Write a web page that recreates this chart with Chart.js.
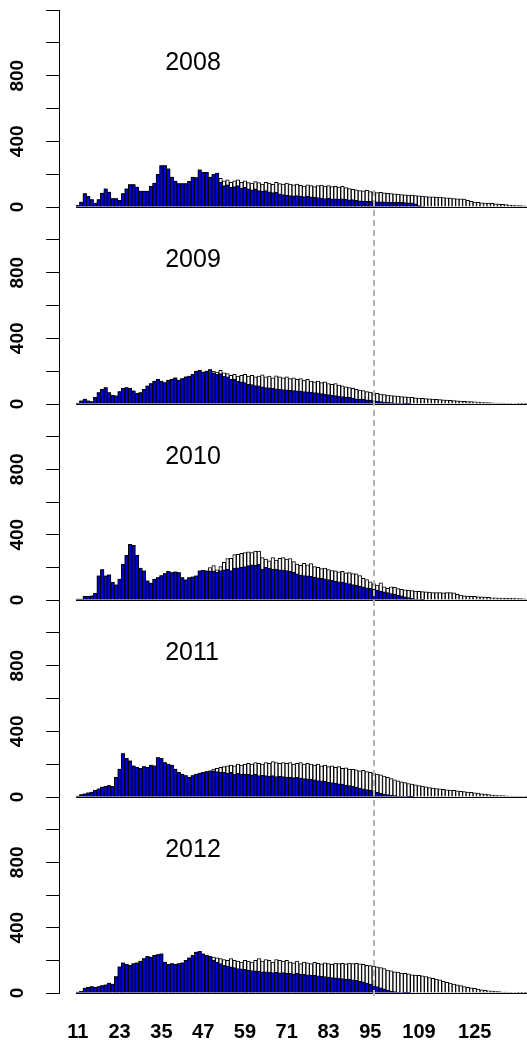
<!DOCTYPE html>
<html>
<head>
<meta charset="utf-8">
<script src="https://cdn.jsdelivr.net/npm/chart.js@4.4.1/dist/chart.umd.min.js"></script>
<style>
  html, body { margin: 0; padding: 0; background: #fff; }
  #wrap { position: relative; width: 527px; height: 1045px; overflow: hidden; }
  .panel { position: absolute; left: 0; width: 527px; }
</style>
</head>
<body>
<div id="wrap"></div>
<script>
// length classes (cm) on the x axis
let lengths = [
  11, 12, 13, 14, 15, 16, 17, 18, 19, 20, 21, 22, 23, 24, 25, 26, 27, 28, 29, 30,
  31, 32, 33, 34, 35, 36, 37, 38, 39, 40, 41, 42, 43, 44, 45, 46, 47, 48, 49, 50,
  51, 52, 53, 54, 55, 56, 57, 58, 59, 60, 61, 62, 63, 64, 65, 66, 67, 68, 69, 70,
  71, 72, 73, 74, 75, 76, 77, 78, 79, 80, 81, 82, 83, 84, 85, 86, 87, 88, 89, 90,
  91, 92, 93, 94, 95, 96, 97, 98, 99, 100, 101, 102, 103, 104, 105, 106, 107, 108, 109, 110,
  111, 112, 113, 114, 115, 116, 117, 118, 119, 120, 121, 122, 123, 124, 125, 126, 127, 128, 129, 130,
  131, 132, 133, 134, 135, 136, 137, 138, 139, 140,
];
let years = ["2008", "2009", "2010", "2011", "2012"];
let xTickLabels = [11, 23, 35, 47, 59, 71, 83, 95, 109, 125];
let yTickLabels = [0, 400, 800];
let cutoffLength = 96;

// white bars = all fish, blue bars = part of them
let total2008 = [
  10, 30, 81, 65, 45, 24, 45, 85, 110, 91,
  51, 51, 40, 81, 110, 136, 136, 122, 97, 97,
  97, 126, 146, 199, 252, 252, 233, 183, 158, 142,
  142, 142, 156, 183, 179, 227, 211, 211, 183, 199,
  207, 175, 160, 165, 150, 160, 165, 150, 160, 148,
  145, 155, 148, 140, 150, 145, 138, 150, 142, 140,
  145, 140, 135, 140, 132, 128, 135, 130, 125, 130,
  134, 128, 130, 124, 126, 122, 126, 118, 112, 108,
  104, 100, 98, 102, 94, 92, 88, 90, 86, 84,
  82, 80, 78, 76, 74, 72, 72, 70, 68, 66,
  64, 62, 62, 60, 60, 58, 56, 54, 52, 50,
  50, 48, 40, 34, 30, 28, 26, 24, 24, 22,
  20, 18, 16, 14, 12, 10, 9, 8, 7, 6,
];
let blue2008 = [
  10, 30, 81, 65, 45, 24, 45, 85, 110, 91,
  51, 51, 40, 81, 110, 136, 136, 122, 97, 97,
  97, 126, 146, 199, 252, 252, 233, 183, 158, 142,
  142, 142, 156, 183, 179, 227, 211, 211, 183, 199,
  207, 150, 130, 135, 120, 125, 130, 115, 120, 110,
  105, 110, 100, 95, 100, 92, 88, 90, 80, 75,
  72, 70, 68, 70, 66, 64, 66, 62, 60, 58,
  55, 52, 54, 50, 50, 48, 50, 46, 44, 45,
  40, 38, 36, 35, 34, 33, 32, 32, 31, 30,
  30, 29, 28, 28, 27, 26, 25, 20, 8, 3,
  0, 0, 0, 0, 0, 0, 0, 0, 0, 0,
  0, 0, 0, 0, 0, 0, 0, 0, 0, 0,
  0, 0, 0, 0, 0, 0, 0, 0, 0, 0,
];
let total2009 = [
  5, 20, 30, 20, 15, 40, 70, 90, 100, 70,
  55, 50, 75, 95, 100, 95, 80, 65, 70, 90,
  110, 125, 140, 150, 140, 130, 145, 150, 160, 145,
  155, 165, 170, 180, 200, 205, 195, 200, 210, 200,
  195, 205, 190, 185, 175, 180, 170, 175, 180, 170,
  175, 165, 170, 178, 165, 170, 160, 172, 165, 160,
  165, 155, 160, 150, 155, 145, 150, 140, 135, 140,
  130, 135, 125, 120, 125, 115, 110, 105, 100, 95,
  90, 85, 82, 75, 72, 68, 65, 60, 58, 55,
  52, 50, 48, 45, 44, 42, 40, 38, 36, 35,
  33, 32, 30, 28, 27, 25, 24, 22, 21, 20,
  18, 17, 15, 14, 13, 12, 10, 9, 8, 7,
  6, 5, 5, 4, 4, 3, 3, 2, 2, 1,
];
let blue2009 = [
  5, 20, 30, 20, 15, 40, 70, 90, 100, 70,
  55, 50, 75, 95, 100, 95, 80, 65, 70, 90,
  110, 125, 140, 150, 140, 130, 145, 150, 160, 145,
  155, 165, 170, 180, 200, 205, 195, 200, 210, 190,
  180, 185, 170, 165, 150, 150, 140, 135, 130, 120,
  118, 112, 110, 105, 100, 98, 95, 92, 90, 88,
  86, 84, 82, 80, 78, 76, 74, 72, 70, 68,
  64, 60, 58, 55, 52, 48, 45, 42, 40, 36,
  32, 30, 28, 26, 24, 20, 18, 15, 12, 10,
  8, 6, 4, 3, 2, 1, 0, 0, 0, 0,
  0, 0, 0, 0, 0, 0, 0, 0, 0, 0,
  0, 0, 0, 0, 0, 0, 0, 0, 0, 0,
  0, 0, 0, 0, 0, 0, 0, 0, 0, 0,
];
let total2010 = [
  5, 6, 22, 22, 26, 41, 148, 187, 148, 154,
  108, 93, 128, 219, 274, 341, 335, 274, 195, 178,
  118, 104, 128, 138, 150, 162, 175, 168, 172, 168,
  138, 124, 138, 142, 148, 178, 182, 178, 199, 211,
  185, 205, 230, 254, 255, 278, 280, 285, 290, 295,
  290, 300, 300, 260, 250, 240, 260, 245, 255, 260,
  250, 254, 235, 220, 213, 225, 215, 223, 205, 200,
  193, 195, 187, 180, 178, 172, 175, 166, 168, 162,
  160, 150, 132, 125, 112, 100, 91, 105, 80, 71,
  80, 77, 70, 65, 62, 61, 58, 55, 53, 51,
  50, 48, 46, 45, 46, 44, 45, 45, 44, 35,
  30, 26, 24, 22, 22, 20, 20, 18, 16, 14,
  13, 12, 12, 11, 10, 10, 9, 8, 7, 6,
];
let blue2010 = [
  5, 6, 22, 22, 26, 41, 148, 187, 148, 154,
  108, 93, 128, 219, 274, 341, 335, 274, 195, 178,
  118, 104, 128, 138, 150, 162, 175, 168, 172, 168,
  138, 124, 138, 142, 148, 178, 182, 178, 178, 175,
  170, 180, 185, 190, 180, 195, 197, 200, 205, 210,
  215, 212, 220, 190, 200, 195, 188, 190, 185, 183,
  180, 175, 170, 160, 152, 150, 148, 145, 140, 135,
  132, 130, 125, 120, 115, 112, 110, 105, 100, 95,
  91, 85, 80, 75, 71, 66, 61, 55, 50, 45,
  40, 35, 30, 25, 20, 15, 10, 6, 3, 1,
  0, 0, 0, 0, 0, 0, 0, 0, 0, 0,
  0, 0, 0, 0, 0, 0, 0, 0, 0, 0,
  0, 0, 0, 0, 0, 0, 0, 0, 0, 0,
];
let total2011 = [
  5, 15, 20, 25, 30, 40, 50, 60, 65, 70,
  65, 120, 170, 265, 235, 220, 190, 180, 175, 185,
  180, 195, 190, 240, 235, 210, 200, 195, 170, 150,
  140, 130, 120, 130, 140, 145, 150, 155, 160, 170,
  175, 180, 185, 190, 195, 190, 200, 195, 200, 205,
  200, 210, 205, 200, 210, 205, 215, 210, 205, 210,
  205, 210, 200, 205, 210, 200, 205, 200, 195, 200,
  190, 195, 185, 190, 180, 185, 175, 178, 170, 168,
  165, 160, 162, 155, 150, 145, 140, 135, 128, 120,
  112, 105, 98, 92, 88, 82, 78, 74, 70, 66,
  62, 58, 55, 52, 50, 46, 44, 42, 40, 38,
  35, 33, 30, 28, 26, 24, 20, 18, 15, 12,
  10, 9, 8, 7, 6, 5, 4, 4, 3, 2,
];
let blue2011 = [
  5, 15, 20, 25, 30, 40, 50, 60, 65, 70,
  65, 120, 170, 265, 235, 220, 190, 180, 175, 185,
  180, 195, 190, 240, 235, 210, 200, 195, 170, 150,
  140, 130, 120, 130, 140, 145, 150, 155, 160, 160,
  155, 150, 150, 145, 150, 140, 145, 140, 138, 140,
  135, 138, 130, 132, 130, 128, 130, 125, 128, 125,
  122, 120, 118, 120, 115, 112, 110, 108, 105, 100,
  98, 95, 90, 88, 85, 80, 78, 72, 70, 65,
  60, 55, 50, 45, 40, 35, 28, 22, 18, 14,
  10, 8, 6, 4, 3, 2, 1, 0, 0, 0,
  0, 0, 0, 0, 0, 0, 0, 0, 0, 0,
  0, 0, 0, 0, 0, 0, 0, 0, 0, 0,
  0, 0, 0, 0, 0, 0, 0, 0, 0, 0,
];
let total2012 = [
  5, 10, 30, 35, 40, 35, 40, 45, 50, 60,
  55, 100, 160, 185, 175, 170, 180, 185, 195, 210,
  225, 220, 230, 235, 240, 190, 175, 180, 175, 180,
  185, 200, 215, 230, 250, 255, 240, 230, 225, 220,
  215, 210, 205, 200, 210, 200, 195, 190, 200, 195,
  190, 200, 210, 195, 205, 200, 190, 205, 200, 195,
  200, 190, 185, 195, 180, 190, 185, 180, 188, 182,
  178, 185, 180, 175, 183, 180, 182, 178, 183, 180,
  182, 178, 175, 170, 168, 165, 160, 155, 150, 140,
  135, 130, 128, 122, 120, 118, 112, 110, 108, 105,
  100, 95, 90, 85, 80, 72, 65, 60, 55, 50,
  45, 40, 35, 32, 28, 24, 20, 16, 14, 12,
  10, 8, 6, 5, 4, 3, 3, 2, 2, 1,
];
let blue2012 = [
  5, 10, 30, 35, 40, 35, 40, 45, 50, 60,
  55, 100, 160, 185, 175, 170, 180, 185, 195, 210,
  225, 220, 230, 235, 240, 190, 175, 180, 175, 180,
  185, 200, 215, 230, 250, 255, 240, 230, 225, 200,
  190, 180, 170, 165, 160, 155, 150, 148, 145, 140,
  138, 135, 132, 130, 130, 128, 125, 126, 124, 125,
  122, 120, 118, 120, 116, 115, 112, 110, 108, 105,
  102, 100, 98, 95, 93, 91, 88, 85, 85, 81,
  78, 72, 68, 61, 55, 48, 40, 32, 25, 18,
  12, 8, 5, 3, 2, 1, 0, 0, 0, 0,
  0, 0, 0, 0, 0, 0, 0, 0, 0, 0,
  0, 0, 0, 0, 0, 0, 0, 0, 0, 0,
  0, 0, 0, 0, 0, 0, 0, 0, 0, 0,
];

let totals = [total2008, total2009, total2010, total2011, total2012];
let blues = [blue2008, blue2009, blue2010, blue2011, blue2012];

// page layout: zero line of each panel, and the top of the first axis
let baselines = [207, 404, 600, 797, 993];
let firstTop = 10;
let dashTop = 190;
let dashBottom = 1000;

Chart.defaults.font.family = "'Liberation Sans', Arial, sans-serif";
Chart.defaults.color = "#000";

let panelDeco = {
  id: "panelDeco",
  afterDatasetsDraw(chart, args, opts) {
    let ctx = chart.ctx;
    let area = chart.chartArea;
    let x = chart.scales.x;
    let y = chart.scales.y;
    let y0 = y.getPixelForValue(0) + 0.5;
    ctx.save();
    // bottom edges of the bars
    ctx.strokeStyle = "#000";
    ctx.lineWidth = 1;
    ctx.beginPath();
    ctx.moveTo(x.getPixelForValue(lengths[0] - 0.5), y0);
    ctx.lineTo(area.right, y0);
    ctx.stroke();
    // dashed cut-off line, one slice per panel so it looks continuous
    let from = opts.first ? dashTop - opts.offset : area.top;
    let to = opts.last ? dashBottom - opts.offset : area.bottom;
    let cx = Math.round(x.getPixelForValue(cutoffLength));
    ctx.strokeStyle = "#b4b4b4";
    ctx.lineWidth = 2;
    ctx.setLineDash([6, 4]);
    ctx.lineDashOffset = from + opts.offset - dashTop;
    ctx.beginPath();
    ctx.moveTo(cx, from);
    ctx.lineTo(cx, to);
    ctx.stroke();
    ctx.setLineDash([]);
    // year label
    ctx.fillStyle = "#000";
    ctx.font = "25px 'Liberation Sans', Arial, sans-serif";
    ctx.textAlign = "left";
    ctx.textBaseline = "middle";
    ctx.fillText(opts.year, x.getPixelForValue(36.1), y.getPixelForValue(875));
    ctx.restore();
  },
};

function makePanel(k) {
  let last = k === years.length - 1;
  let top = k === 0 ? firstTop : baselines[k - 1];
  let bottom = baselines[k];
  let padTop = 6;
  let padBottom = last ? 0 : 10;
  let xAxisHeight = last ? 50 : 0;
  let offset = top - padTop;

  let div = document.createElement("div");
  div.className = "panel";
  div.style.top = offset + "px";
  div.style.height = bottom - top + padTop + padBottom + xAxisHeight + "px";
  let canvas = document.createElement("canvas");
  div.appendChild(canvas);
  document.getElementById("wrap").appendChild(div);

  let barStyle = {
    borderColor: "#000",
    borderWidth: { left: 1, right: 1, top: 1, bottom: 0 },
    borderSkipped: false,
  };

  new Chart(canvas, {
    type: "bar",
    data: {
      datasets: [
        {
          label: "blue",
          data: lengths.map((c, i) => ({ x: c, y: blues[k][i] })),
          backgroundColor: "#0000dd",
          order: 0,
          ...barStyle,
        },
        {
          label: "total",
          data: lengths.map((c, i) => ({ x: c, y: totals[k][i] })),
          backgroundColor: "#ffffff",
          order: 1,
          ...barStyle,
        },
      ],
    },
    options: {
      responsive: true,
      maintainAspectRatio: false,
      animation: false,
      events: [],
      grouped: false,
      barPercentage: 1,
      categoryPercentage: 1,
      layout: { padding: { top: padTop, bottom: padBottom, left: 0, right: 0 } },
      plugins: {
        legend: { display: false },
        tooltip: { enabled: false },
        panelDeco: { year: years[k], offset: offset, first: k === 0, last: last },
      },
      scales: {
        x: {
          type: "linear",
          min: 5.6,
          max: 140,
          offset: false,
          display: last,
          grid: { display: false, drawTicks: false },
          border: { display: false },
          afterBuildTicks: (scale) => {
            scale.ticks = xTickLabels.map((v) => ({ value: v }));
          },
          afterFit: (scale) => {
            scale.height = xAxisHeight;
            scale.paddingLeft = 0;
            scale.paddingRight = 0;
          },
          ticks: {
            autoSkip: false,
            maxRotation: 0,
            padding: 27,
            font: { size: 20, weight: "bold" },
            color: "#000",
          },
        },
        y: {
          min: 0,
          max: 1200,
          afterFit: (scale) => {
            scale.width = 59;
            scale.paddingTop = 0;
            scale.paddingBottom = 0;
          },
          grid: {
            drawOnChartArea: false,
            drawTicks: true,
            tickLength: 13,
            color: "#000",
            lineWidth: 1,
          },
          border: { display: true, color: "#000", width: 1 },
          ticks: {
            stepSize: 200,
            autoSkip: false,
            minRotation: 90,
            maxRotation: 90,
            crossAlign: "center",
            padding: 12,
            font: { size: 19, weight: "bold" },
            color: "#000",
            callback: (v) => (yTickLabels.includes(v) ? v : ""),
          },
        },
      },
    },
    plugins: [panelDeco],
  });
}

for (let k = 0; k < years.length; k++) {
  makePanel(k);
}
</script>
</body>
</html>
